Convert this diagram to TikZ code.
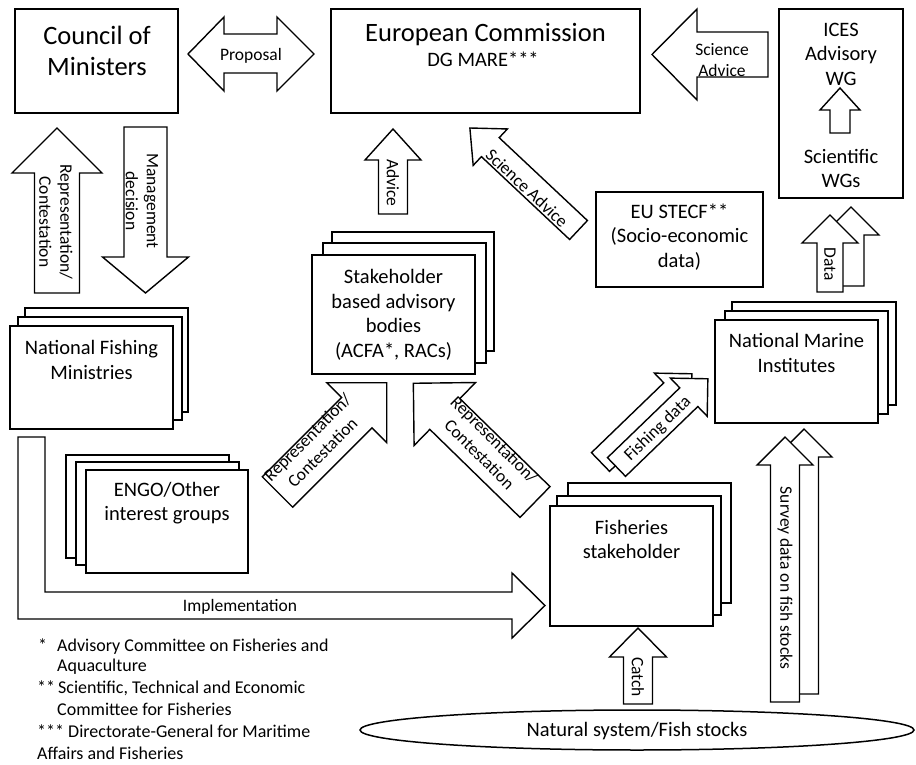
\documentclass[tikz,border=0pt]{standalone}
\usepackage{fontspec}
\setmainfont{Carlito}
\usetikzlibrary{shapes.geometric}
\tikzset{
 box/.style={draw=black, line width=1.4pt, fill=white, inner sep=0pt, outer sep=0pt},
 arr/.style={draw=black, line width=1.4pt, fill=white, line join=miter},
 lbl/.style={font=\fontsize{17.5}{21}\selectfont, align=center, inner sep=0pt},
 btxt/.style={font=\fontsize{20.5}{24.5}\selectfont, align=center, inner sep=0pt},
 bigtxt/.style={font=\fontsize{26.5}{31.5}\selectfont, align=center, inner sep=0pt},
 fn/.style={font=\fontsize{18}{22}\selectfont, anchor=base west, inner sep=0pt},
}
\newcommand\mybox[5]{\node[box, minimum width={#4-#2}, minimum height={#5-#3}] (#1) at ({(#2+#4)/2},{(#3+#5)/2}) {};}
\newcommand\barrow[8]{%
 \begin{scope}[shift={(#2,#3)}, rotate=#4]
 \draw[arr] (0,#6) -- ({#5-#8},#6) -- ({#5-#8},#7) -- (#5,0) -- ({#5-#8},-#7) -- ({#5-#8},-#6) -- (0,-#6) -- cycle;
 \coordinate (#1) at ({(#5-#8)/2},0);
 \coordinate (#1-tip) at (#5,0);
 \end{scope}}
\begin{document}
\begin{tikzpicture}[x=1pt,y=-1pt]
\fill[white] (0,0) rectangle (916,765);
\useasboundingbox (0,0) rectangle (916,765);

% top boxes
\mybox{council}{15}{9}{178}{113}
\node[bigtxt] (councilt) at (97,51) {Council of\\Ministers};
\mybox{ec}{331}{9}{640}{113}
\node[bigtxt, anchor=base] (ect1) at (485.5,42) {European Commission};
\node[btxt, anchor=base] (ect2) at (483,67) {DG MARE***};
\mybox{ices}{779}{9}{903}{198}
\node[btxt] (icest) at (841,54) {ICES\\Advisory\\WG};
\node[btxt] (scit) at (841,168.5) {Scientific\\WGs};
\barrow{icesarr}{840}{133}{90}{45}{10}{20}{22}

% Proposal double arrow
\draw[arr] (188,54) -- (224,17) -- (224,34) -- (277,34) -- (277,17) -- (314,54) -- (277,91) -- (277,73) -- (224,73) -- (224,91) -- cycle;
\node[lbl] (prop) at (251,56) {Proposal};

% Science advice (top)
\barrow{sa1}{768}{54.5}{180}{116}{22.5}{45.5}{45}
\node[lbl] (sa1t) at (722,60) {Science\\Advice};

% Council arrows
\barrow{repc}{57}{293}{90}{165}{22.5}{45}{45}
\node[lbl, rotate=-90] (repct) at (56,222) {Representation/\\Contestation};
\barrow{mgmt}{145.5}{127}{-90}{166}{21.5}{43}{36}
\node[lbl, rotate=-90] (mgmtt) at (142,201) {Management\\decision};

% Advice
\barrow{adv}{393}{214}{90}{85}{14.5}{28}{31}
\node[lbl, rotate=-90] (advt) at (393,183) {Advice};

% Science advice diagonal
\barrow{sa2}{578.5}{230}{136.8}{149}{13}{25}{28}
\node[lbl, rotate=-43] (sa2t) at (527,188) {Science Advice};

% EU STECF
\mybox{stecf}{596}{192}{763}{287}
\node[btxt] (stecft) at (679.5,237) {EU STECF**\\(Socio-economic\\data)};

% Data arrows
\barrow{datab}{851}{286}{90}{79}{13}{28}{28}
\barrow{data}{830}{292}{90}{77}{13}{28}{28}
\node[lbl, rotate=-90] (datat) at (830,264) {Data};

% Stakeholder stack
\mybox{stakeb}{332}{232}{494}{351}
\mybox{stakem}{323}{243}{486}{363}
\mybox{stake}{312}{255}{475}{374}
\node[btxt] (staket) at (393.5,315) {Stakeholder\\based advisory\\bodies\\(ACFA*, RACs)};

% National Fishing Ministries stack
\mybox{nfmb}{25}{308}{188}{412}
\mybox{nfmm}{18}{317}{182}{420}
\mybox{nfm}{10}{326}{173}{429}
\node[btxt] (nfmt) at (91.5,360) {National Fishing\\Ministries};

% ENGO stack
\mybox{engob}{66}{455}{229}{558}
\mybox{engom}{76}{462}{239}{565}
\mybox{engo}{86}{470}{248}{573}
\node[btxt] (engot) at (167,503) {ENGO/Other\\interest groups};

% National Marine Institutes stack
\mybox{nmib}{732}{302}{896}{405}
\mybox{nmim}{725}{311}{888}{414}
\mybox{nmi}{715}{320}{878}{423}
\node[btxt] (nmit) at (796.5,353) {National Marine\\Institutes};

% Representation arrows to stakeholder bodies
\barrow{repl}{277.5}{492}{45}{154.5}{21.5}{42.4}{42.4}
\node[lbl, rotate=45] (replt) at (315,445) {Representation/\\Contestation};
\barrow{repr}{535}{502}{135.7}{170}{21.5}{44}{44}
\node[lbl, rotate=-45] (reprt) at (487,447) {Representation/\\Contestation};

% Fishing data arrows
\barrow{fdb}{600.5}{462}{44}{127}{13}{26.5}{26.5}
\barrow{fd}{616.5}{467}{44}{127}{13}{26.5}{26.5}
\node[lbl, rotate=44] (fdt) at (658,429) {Fishing data};

% Fisheries stakeholder stack
\mybox{fishb}{568}{483}{731}{603}
\mybox{fishm}{557}{496}{721}{615}
\mybox{fish}{550}{506}{713}{626}
\node[btxt] (fisht) at (631.5,539.5) {Fisheries\\stakeholder};

% Survey data arrows
\barrow{svb}{804}{694}{90}{265}{14.5}{28}{28}
\barrow{sv}{785}{702}{90}{265}{14.5}{28}{28}
\node[lbl, rotate=-90] (svt) at (785,578) {Survey data on fish stocks};

% Implementation
\draw[arr] (18,437) -- (45,437) -- (45,592) -- (512,592) -- (512,573) -- (545,605.5) -- (512,638) -- (512,619) -- (18,619) -- cycle;
\node[lbl] (impt) at (240,607) {Implementation};

% Catch
\barrow{catch}{638}{704}{90}{76}{14.5}{28.5}{29}
\node[lbl, rotate=-90] (catcht) at (638,677) {Catch};

% Natural system
\node[draw=black, line width=1.5pt, ellipse, minimum width=554, minimum height=40, inner sep=0pt, fill=white] (nat) at (637,730) {};
\node[btxt] (natt) at (637,731) {Natural system/Fish stocks};

% footnotes
\node[fn] (f1m) at (38,651) {*};
\node[fn] (f1) at (57,651) {Advisory Committee on Fisheries and};
\node[fn] (f2) at (57,671) {Aquaculture};
\node[fn] (f3m) at (37,693) {**};
\node[fn] (f3) at (58,693) {Scientific, Technical and Economic};
\node[fn] (f4) at (57,715) {Committee for Fisheries};
\node[fn] (f5m) at (37,737) {***};
\node[fn] (f5) at (68,737) {Directorate-General for Maritime};
\node[fn] (f6) at (37,759) {Affairs and Fisheries};
\end{tikzpicture}
\end{document}
